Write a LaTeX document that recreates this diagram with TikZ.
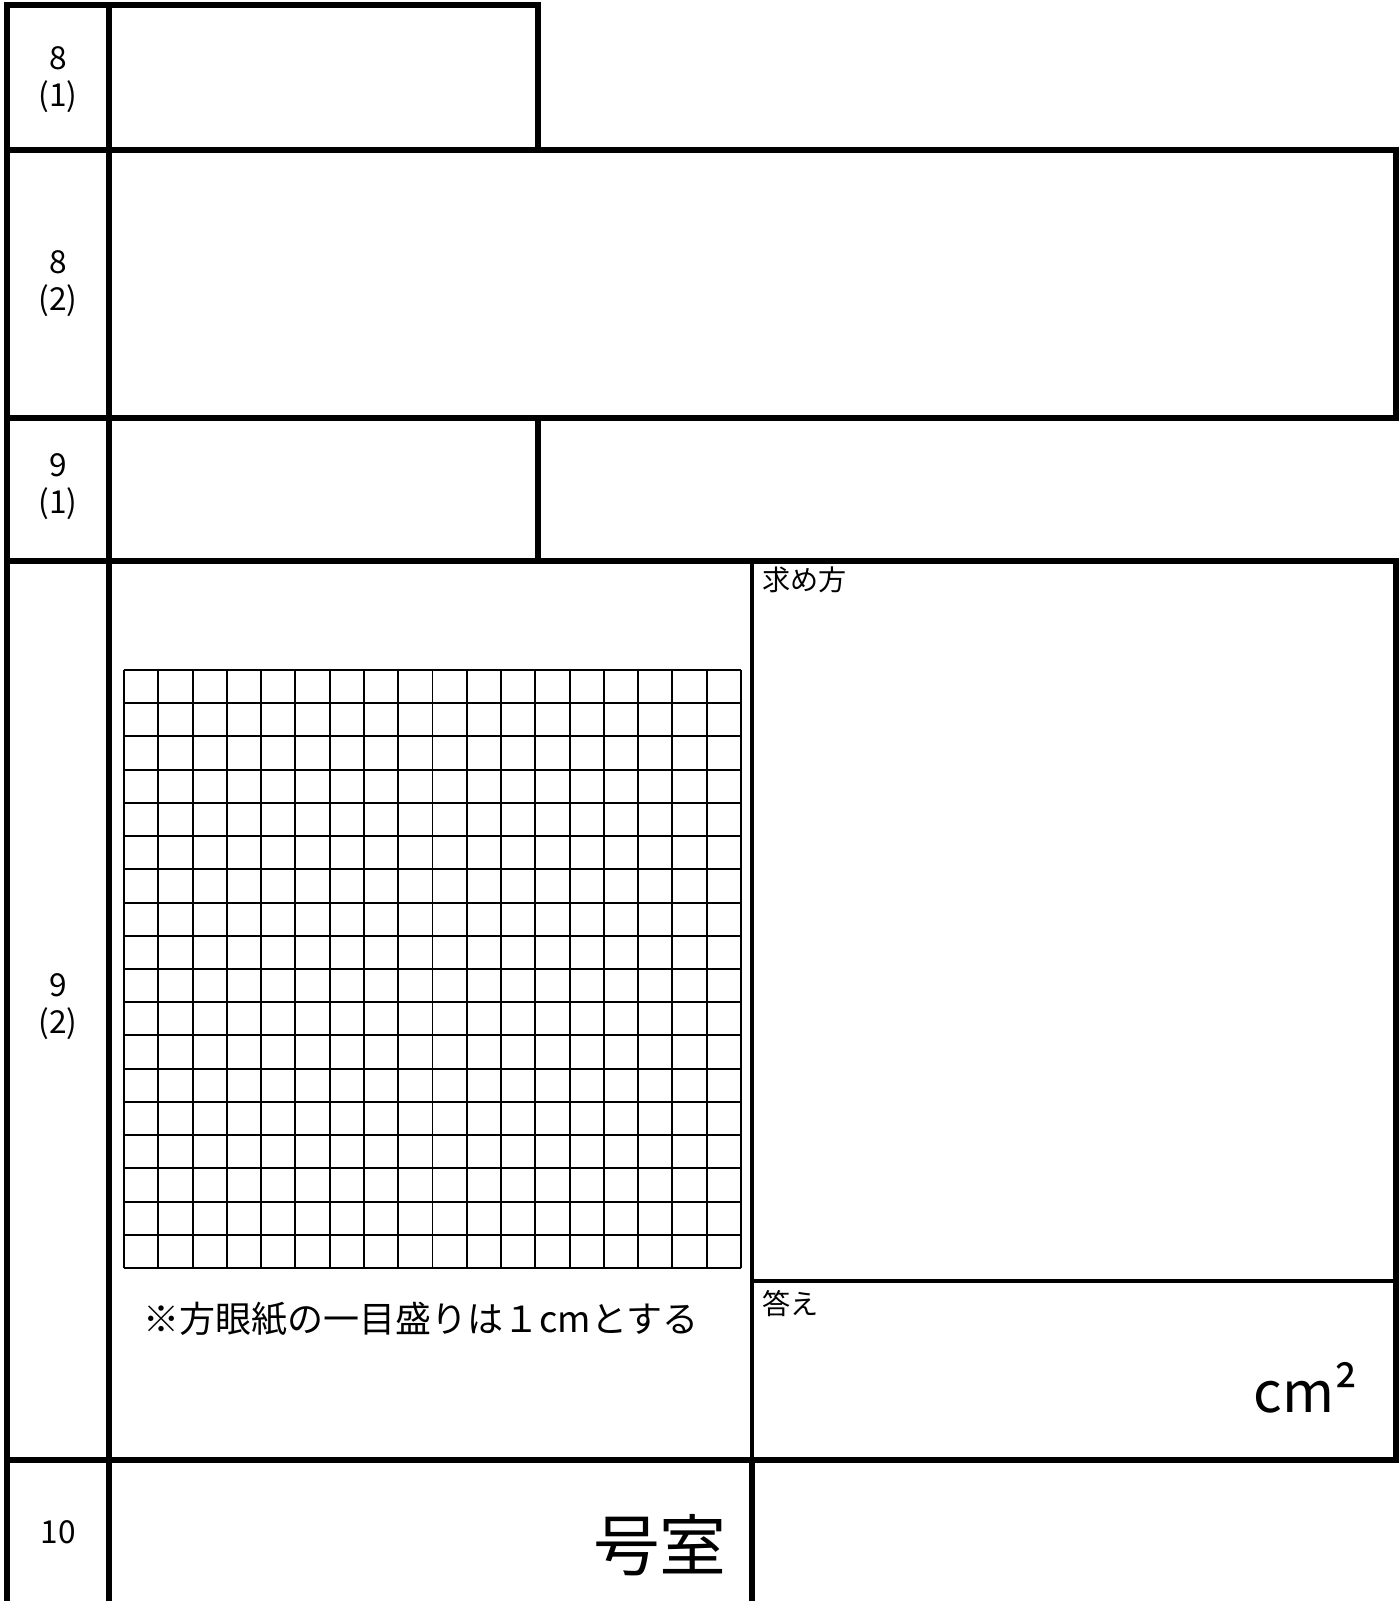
\documentclass[tikz,border=0pt]{standalone}
\usepackage{fontspec}
\setmainfont{Noto Sans CJK JP}
\usepackage{tikz}
\usetikzlibrary{positioning}

\begin{document}
\begin{tikzpicture}[x=0.02cm, y=-0.02cm, thickline/.style={line width=3.4pt}, midline/.style={line width=2pt}, gridline/.style={line width=1.1pt}, numnode/.style={inner sep=0pt, font=\fontsize{18}{20}\selectfont}, textnode/.style={inner sep=0pt, anchor=north west, font=\fontsize{16}{18}\selectfont}]

    \useasboundingbox (0,0) rectangle (1399,1601);

    %Lines
    \draw[thickline] (7,2) -- (7,1601);
    \draw[thickline] (109,2) -- (109,1601);
    \draw[thickline] (4,5) -- (541,5);
    \draw[thickline] (538,5) -- (538,150);
    \draw[thickline] (4,150) -- (1399,150);
    \draw[thickline] (1396,147) -- (1396,421);
    \draw[thickline] (4,418) -- (1399,418);
    \draw[thickline] (538,418) -- (538,561);
    \draw[thickline] (4,561) -- (1399,561);
    \draw[thickline] (1396,558) -- (1396,1463);
    \draw[midline] (752,561) -- (752,1460);
    \draw[midline] (752,1281) -- (1396,1281);
    \draw[thickline] (4,1460) -- (1399,1460);
    \draw[thickline] (752,1460) -- (752,1601);

    %Grid
    \foreach \i in {0,...,18}{
        \draw[gridline] ({124+\i*617/18},670) -- ({124+\i*617/18},1268);
        \draw[gridline] (124,{670+\i*598/18}) -- (741,{670+\i*598/18});
    }

    %Nodes
    \node[numnode](n8a) at (58,58){8};
    \node[numnode](p8a)[below=6pt of n8a]{(1)};
    \node[numnode](n8b) at (58,262){8};
    \node[numnode](p8b)[below=6pt of n8b]{(2)};
    \node[numnode](n9a) at (58,465){9};
    \node[numnode](p9a)[below=6pt of n9a]{(1)};
    \node[numnode](n9b) at (58,985){9};
    \node[numnode](p9b)[below=6pt of n9b]{(2)};
    \node[numnode](n10) at (58,1532){10};
    \node[textnode](method) at (762,566){求め方};
    \node[textnode](answer) at (762,1290){答え};
    \node[textnode, anchor=west, font=\fontsize{20.5}{22}\selectfont](note) at (143,1319){※方眼紙の一目盛りは１cmとする};
    \node[textnode, anchor=base east, font=\fontsize{32}{34}\selectfont](unit) at (1358,1412){cm²};
    \node[textnode, anchor=base east, font=\fontsize{38}{40}\selectfont](room) at (727,1570){号室};

\end{tikzpicture}
\end{document}
